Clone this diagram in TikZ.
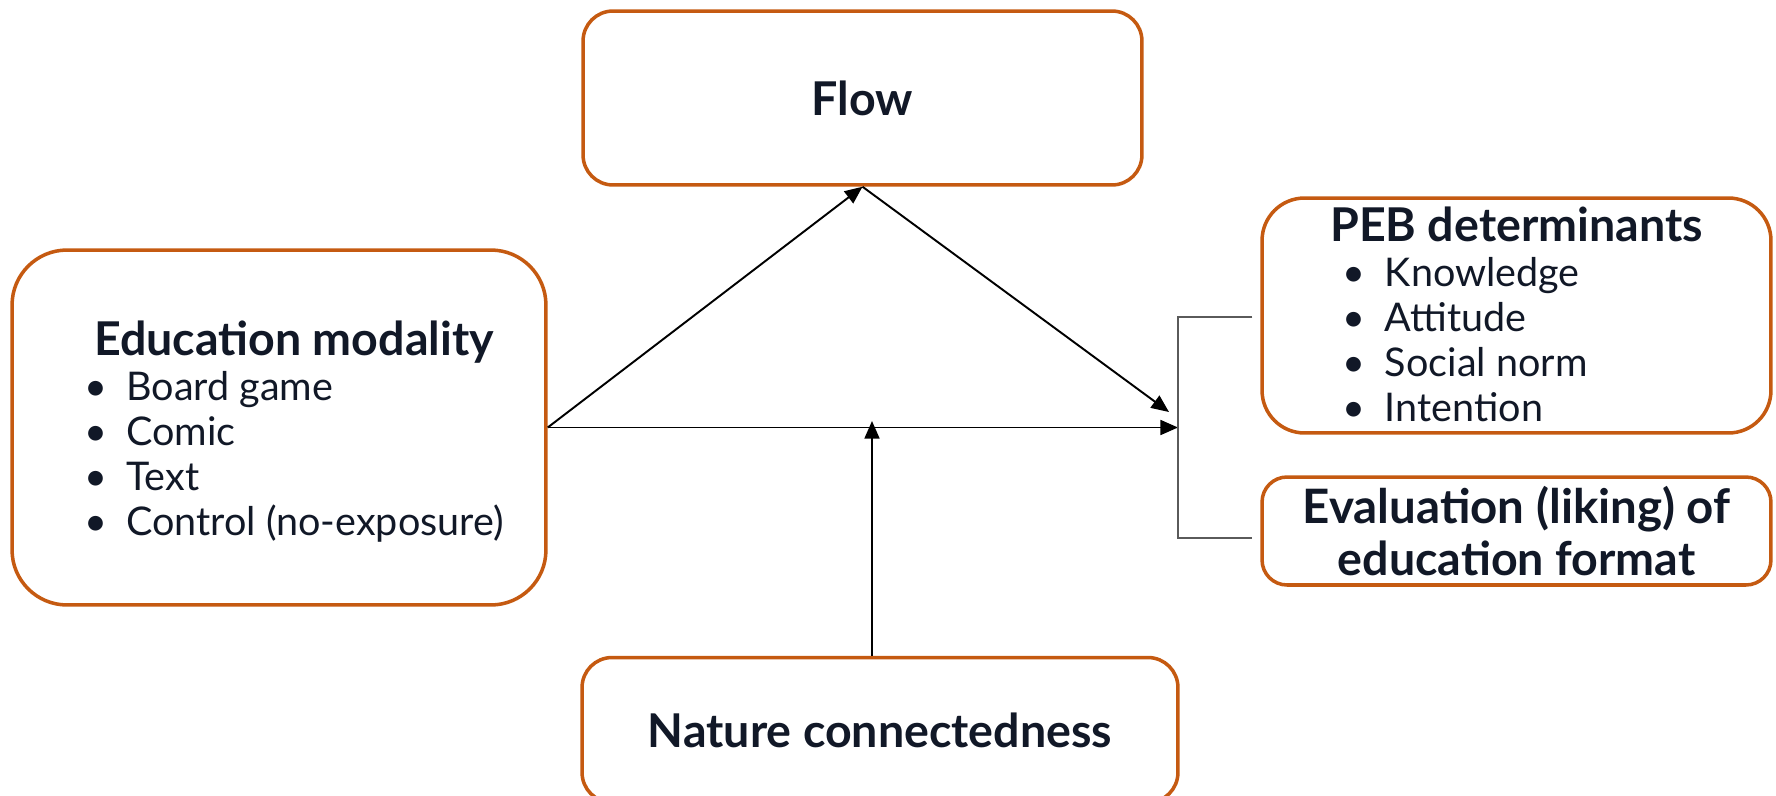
\documentclass[tikz,border=0pt]{standalone}
\usepackage{fontspec}
\setmainfont{Lato}
\usepackage{array}
\usetikzlibrary{arrows.meta,positioning}

\definecolor{boxorange}{RGB}{197,90,17}
\definecolor{inkblue}{RGB}{17,24,39}
\definecolor{bracketgray}{RGB}{90,90,90}

\newcommand{\bul}[1]{\makebox[1.07em][l]{\textbullet}#1}
\newcommand{\headfont}{\fontsize{26.5}{30}\selectfont\bfseries}
\newcommand{\itemfont}{\fontsize{22.5}{25.6}\selectfont\mdseries}

\begin{document}
\begin{tikzpicture}[
  x=0.02cm, y=-0.02cm,
  box/.style={
    rectangle,
    draw=boxorange,
    line width=2pt,
    fill=white,
    text=inkblue,
    align=center,
    font=\headfont
  },
  arrow/.style={
    line width=1.1pt,
    draw=black,
    -{Triangle[length=10pt,width=8.5pt]}
  },
  bracket/.style={
    line width=0.8pt,
    draw=bracketgray
  }
]
\useasboundingbox (0,0) rectangle (1776,795);

% Mediator
\node[box, minimum width=11.18cm, minimum height=3.48cm, rounded corners=0.6cm] (flow) at (862.5,98) {Flow};

% Predictor
\node[box, minimum width=10.68cm, minimum height=7.1cm, rounded corners=1.1cm] (edu) at (279,427.5) {%
  \itemfont
  \begin{tabular}{@{\hspace{17pt}}l@{}}
    \multicolumn{1}{@{\hspace{17pt}}c@{}}{\rule{0pt}{28pt}\headfont Education modality}\\
    \bul{Board game}\\
    \bul{Comic}\\
    \bul{Text}\\
    \bul{Control (no-exposure)}
  \end{tabular}};

% Outcomes
\node[box, minimum width=10.18cm, minimum height=4.7cm, inner ysep=1pt, rounded corners=0.85cm] (peb) at (1516.5,315.5) {%
  \itemfont
  \begin{tabular}{@{}l@{}}
    \headfont PEB determinants\\
    \hspace{7pt}\bul{Knowledge}\\
    \hspace{7pt}\bul{Attitude}\\
    \hspace{7pt}\bul{Social norm}\\
    \hspace{7pt}\bul{Intention}\\[-6pt]
  \end{tabular}};
\node[box, minimum width=10.18cm, minimum height=2.16cm, rounded corners=0.5cm] (eval) at (1516.5,531) {%
  \fontsize{27}{27.5}\selectfont\bfseries Evaluation (liking) of\\ education format};

% Moderator
\node[box, minimum width=11.92cm, minimum height=2.9cm, rounded corners=0.6cm] (nature) at (880,730) {Nature connectedness};

% Joints
\coordinate (hub) at (1178,427.5);
\coordinate (hubin) at (1169,412);
\coordinate (modtip) at (872,421);
\coordinate (brtop) at (1178,317);
\coordinate (brbot) at (1178,538);

% Paths
\draw[arrow] (edu.east) -- (flow.south);
\draw[arrow] (flow.south) -- (hubin);
\draw[arrow] (edu.east) -- (hub);
\draw[arrow] (modtip |- nature.north) -- (modtip);

% Bracket
\draw[bracket] ([xshift=-0.16cm]brtop -| peb.west) -- (brtop) -- (brbot) -- ([xshift=-0.16cm]brbot -| eval.west);

\end{tikzpicture}
\end{document}
